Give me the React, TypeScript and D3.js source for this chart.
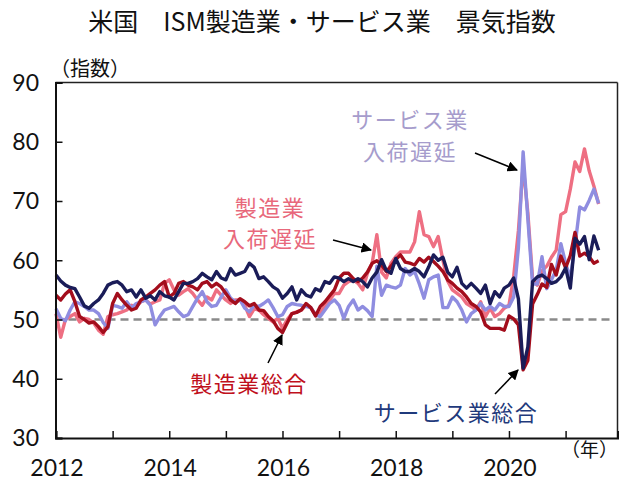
import { useEffect, useRef } from 'react'
import * as d3 from 'd3'

// monthly, Jan 2012 .. Aug 2021
const startYear = 2012
const yearTicks = [2012, 2013, 2014, 2015, 2016, 2017, 2018, 2019, 2020, 2021]
const yearLabels = ['2012', '', '2014', '', '2016', '', '2018', '', '2020', '']
const yTicks = [30, 40, 50, 60, 70, 80, 90]

const mfgDeliveries = [
  51.0, 47.0, 50.0, 50.5, 51.0, 49.6, 50.2, 50.0, 49.4, 48.2, 47.5, 50.5,
  50.8, 51.0, 51.3, 51.6, 52.4, 52.2, 53.0, 53.3, 52.6, 53.0, 53.3, 56.1,
  56.7, 55.0, 54.1, 54.7, 55.2, 54.4, 53.3, 52.4, 53.8, 53.3, 55.0, 54.1,
  53.3, 52.7, 53.3, 53.3, 52.4, 50.5, 51.8, 51.6, 50.8, 50.2, 49.6, 50.2,
  48.5, 50.0, 51.0, 51.3, 51.6, 52.4, 52.0, 50.8, 51.0, 52.4, 53.3, 54.4,
  54.4, 55.8, 56.4, 56.7, 56.1, 55.0, 57.8, 59.5, 64.3, 58.0, 57.0, 59.5,
  60.6, 61.4, 61.4, 61.4, 63.1, 68.2, 64.3, 64.0, 62.3, 64.0, 60.0, 56.5,
  55.0, 54.4, 53.8, 52.7, 52.2, 51.6, 53.0, 50.5, 51.9, 50.5, 51.0, 51.9,
  52.4, 57.3, 65.0, 76.0, 68.0, 56.9, 55.8, 58.2, 59.0, 60.5, 61.7, 67.7,
  68.2, 72.0, 76.6, 75.0, 78.8, 75.1, 72.5, 69.5
]

const svcDeliveries = [
  51.8, 50.2, 49.8, 51.6, 53.0, 52.7, 52.2, 51.6, 51.6, 51.0, 49.5, 48.5,
  52.4, 52.2, 51.9, 53.0, 51.9, 52.7, 53.0, 53.3, 52.4, 49.1, 50.5, 51.6,
  51.9, 52.2, 51.3, 50.5, 50.8, 52.2, 53.6, 54.7, 53.0, 52.2, 52.4, 53.8,
  55.0, 53.6, 53.0, 53.3, 51.9, 51.3, 52.4, 52.2, 52.7, 53.3, 52.0, 50.5,
  50.8, 52.2, 52.7, 52.5, 52.4, 52.2, 52.0, 50.8, 50.5, 51.6, 52.7, 53.3,
  52.4, 50.2, 52.2, 53.3, 51.6, 52.2, 51.5, 50.5, 59.0, 54.1, 55.8, 55.5,
  55.3, 55.8, 58.6, 57.5, 58.1, 56.0, 53.6, 56.7, 57.2, 57.5, 52.0, 52.0,
  53.8, 53.0, 51.6, 49.6, 51.0, 51.6, 52.7, 51.6, 52.2, 51.6, 52.7, 52.2,
  52.2, 53.8, 62.1, 78.3, 67.0, 56.0, 56.0, 60.6, 55.2, 56.7, 58.3, 62.8,
  59.5, 57.0, 62.5, 69.0, 68.5, 70.1, 72.0, 69.6
]

const mfgPmi = [
  54.1, 53.3, 54.3, 55.0, 53.0, 50.5, 50.0, 49.4, 49.6, 48.8, 47.8, 48.8,
  52.7, 54.4, 53.3, 52.4, 51.6, 51.9, 53.3, 53.8, 54.4, 55.0, 55.8, 56.4,
  53.8, 54.4, 56.1, 56.4, 55.8, 55.5, 55.0, 56.1, 56.4, 55.5, 56.1, 55.5,
  54.4, 53.3, 52.7, 53.5, 53.0, 52.3, 52.7, 51.6, 51.5, 50.5, 49.8, 48.5,
  47.8, 49.4, 51.0, 51.2, 51.6, 52.7, 52.0, 50.6, 52.2, 53.0, 54.0, 55.0,
  57.0, 57.8, 57.8, 56.9, 56.4, 57.0, 58.0, 59.5, 59.9, 59.2, 58.1, 59.0,
  60.1, 60.9, 59.7, 59.5, 59.2, 60.3, 59.7, 60.5, 59.8, 59.0, 58.1, 56.7,
  56.1, 55.3, 54.7, 53.8, 52.7, 52.2, 51.3, 49.1, 48.5, 48.5, 48.5, 48.2,
  50.6, 50.1, 49.1, 41.5, 43.1, 52.6, 54.2, 56.0, 55.4, 59.3, 57.5, 60.7,
  58.7, 60.8, 64.7, 60.7, 61.2, 60.6, 59.5, 59.9
]

const svcPmi = [
  57.5, 56.5, 55.8, 55.4, 55.2, 53.8, 52.3, 51.9, 52.7, 53.3, 54.4, 55.8,
  56.2, 56.4, 55.8, 54.7, 55.0, 53.8, 55.0, 53.6, 54.0, 53.3, 54.7, 54.0,
  53.8, 53.3, 54.7, 56.1, 56.1, 56.4, 56.9, 57.8, 57.2, 56.7, 58.1, 57.0,
  56.7, 58.6, 57.5, 57.8, 58.1, 59.5, 58.8, 56.9, 57.2, 56.4, 55.5, 55.0,
  53.6, 54.4, 55.5, 53.3, 55.0, 54.1, 53.8, 55.2, 54.8, 56.4, 56.1, 57.2,
  57.0, 56.4, 56.9, 56.4, 56.9, 56.4, 55.5, 57.0, 58.0, 60.1, 58.3, 57.8,
  60.3, 58.6, 58.1, 58.1, 58.6, 58.1, 57.2, 58.9, 60.9, 60.0, 60.5, 58.0,
  57.2, 58.8, 56.1, 55.3, 56.1, 55.3, 54.4, 55.8, 52.7, 54.7, 53.8, 55.3,
  55.8, 57.0, 53.5, 41.8, 45.4, 56.4, 57.2, 57.5, 56.9, 56.1, 56.4, 57.2,
  58.7, 55.3, 63.7, 62.7, 64.0, 60.1, 64.1, 61.7
]

const series = [
  { name: '製造業入荷遅延', values: mfgDeliveries, color: '#ee6f82' },
  { name: 'サービス業入荷遅延', values: svcDeliveries, color: '#8f8de0' },
  { name: '製造業総合', values: mfgPmi, color: '#a30d1c' },
  { name: 'サービス業総合', values: svcPmi, color: '#1a1c58' }
]

const numFont = "Lato, 'Noto Sans CJK JP', sans-serif"
const jpFont = "'Noto Sans CJK JP', sans-serif"

export default function App() {
  const chartRef = useRef<SVGSVGElement | null>(null)

  useEffect(() => {
    if (!chartRef.current) return
    const svg = d3.select(chartRef.current)
    svg.selectAll('*').remove()

    const width = 619
    const height = 480
    const margin = { top: 82.5, right: 1.5, bottom: 42, left: 55.5 }
    const plotRight = width - margin.right
    const plotBottom = height - margin.bottom

    const x = d3.scaleLinear().domain([0, 119]).range([56, plotRight])
    const y = d3.scaleLinear().domain([30, 90]).range([plotBottom, margin.top])

    svg.attr('width', width).attr('height', height).style('display', 'block')

    svg.append('rect').attr('width', width).attr('height', height).attr('fill', '#ffffff')

    // title
    svg.append('text')
      .attr('x', 322)
      .attr('y', 31)
      .attr('text-anchor', 'middle')
      .style('font-family', jpFont)
      .style('font-size', '25px')
      .attr('fill', '#111')
      .text('米国　ISM製造業・サービス業　景気指数')

    svg.append('text')
      .attr('x', 50)
      .attr('y', 76)
      .style('font-family', jpFont)
      .style('font-size', '20px')
      .attr('fill', '#111')
      .text('（指数）')

    // 50 reference line
    svg.append('line')
      .attr('x1', margin.left)
      .attr('x2', 611)
      .attr('y1', y(50))
      .attr('y2', y(50))
      .attr('stroke', '#8a8a8a')
      .attr('stroke-width', 2.5)
      .attr('stroke-dasharray', '8,5')

    // lines
    const line = d3.line<number>()
      .x((d, i) => x(i))
      .y(d => y(d))

    series.forEach(s => {
      svg.append('path')
        .datum(s.values)
        .attr('fill', 'none')
        .attr('stroke', s.color)
        .attr('stroke-width', 3.4)
        .attr('stroke-linejoin', 'round')
        .attr('d', line)
    })

    // frame
    svg.append('line')
      .attr('x1', margin.left).attr('x2', plotRight)
      .attr('y1', margin.top).attr('y2', margin.top)
      .attr('stroke', '#222').attr('stroke-width', 1.5)
    svg.append('line')
      .attr('x1', plotRight).attr('x2', plotRight)
      .attr('y1', margin.top).attr('y2', plotBottom)
      .attr('stroke', '#222').attr('stroke-width', 1.5)

    // y axis
    const yAxis = svg.append('g')
      .attr('transform', `translate(${margin.left},0)`)
      .call(d3.axisRight(y).tickValues(yTicks).tickSize(7).tickFormat(() => ''))
    yAxis.select('.domain').attr('stroke', '#111').attr('stroke-width', 2)
    yAxis.selectAll('.tick line').attr('stroke', '#111').attr('stroke-width', 1.5)

    svg.selectAll('.ylab')
      .data(yTicks)
      .enter()
      .append('text')
      .attr('class', 'ylab')
      .attr('x', 39)
      .attr('y', d => y(d))
      .attr('dy', '0.36em')
      .attr('text-anchor', 'end')
      .style('font-family', numFont)
      .style('font-size', '23px')
      .attr('fill', '#111')
      .text(d => d)

    // x axis
    const xAxis = svg.append('g')
      .attr('transform', `translate(0,${plotBottom})`)
      .call(
        d3.axisTop(x)
          .tickValues(yearTicks.map(yr => (yr - startYear) * 12))
          .tickSize(7)
          .tickFormat(() => '')
      )
    xAxis.select('.domain').attr('stroke', '#111').attr('stroke-width', 2)
    xAxis.selectAll('.tick line').attr('stroke', '#111').attr('stroke-width', 1.5)

    svg.selectAll('.xlab')
      .data(yearTicks)
      .enter()
      .append('text')
      .attr('class', 'xlab')
      .attr('x', d => x((d - startYear) * 12) + 1)
      .attr('y', 476)
      .attr('text-anchor', 'middle')
      .style('font-family', numFont)
      .style('font-size', '23px')
      .attr('fill', '#111')
      .text((d, i) => yearLabels[i])

    svg.append('text')
      .attr('x', 618)
      .attr('y', 457)
      .attr('text-anchor', 'end')
      .style('font-family', jpFont)
      .style('font-size', '19px')
      .attr('fill', '#111')
      .text('（年）')

    // annotations
    const note = (lines: string[], cx: number, y0: number, dy: number, color: string) => {
      lines.forEach((t, i) => {
        svg.append('text')
          .attr('x', cx)
          .attr('y', y0 + i * dy)
          .attr('text-anchor', 'middle')
          .style('font-family', jpFont)
          .style('font-size', '22px')
          .style('letter-spacing', '1.5px')
          .attr('fill', color)
          .text(t)
      })
    }
    note(['サービス業', '入荷遅延'], 410, 128, 32, '#a69ccc')
    note(['製造業', '入荷遅延'], 270, 216, 31, '#e8687b')
    note(['製造業総合'], 249, 392, 0, '#c0101c')
    note(['サービス業総合'], 456, 421, 0, '#1f3a7c')

    svg.append('defs').append('marker')
      .attr('id', 'ah')
      .attr('viewBox', '0 0 10 10')
      .attr('refX', 9)
      .attr('refY', 5)
      .attr('markerWidth', 7)
      .attr('markerHeight', 7)
      .attr('orient', 'auto')
      .append('path')
      .attr('d', 'M0,0 L10,5 L0,10 z')
      .attr('fill', '#000')

    const arrows = [
      [475, 153, 517, 170],
      [333, 240, 371, 250],
      [268, 363, 282, 335],
      [495, 394, 518, 370]
    ]
    arrows.forEach(([x1, y1, x2, y2]) => {
      svg.append('line')
        .attr('x1', x1).attr('y1', y1).attr('x2', x2).attr('y2', y2)
        .attr('stroke', '#000')
        .attr('stroke-width', 1.5)
        .attr('marker-end', 'url(#ah)')
    })
  }, [])

  return (
    <div style={{ position: 'fixed', left: 0, top: 0 }}>
      <svg ref={chartRef}></svg>
    </div>
  )
}
